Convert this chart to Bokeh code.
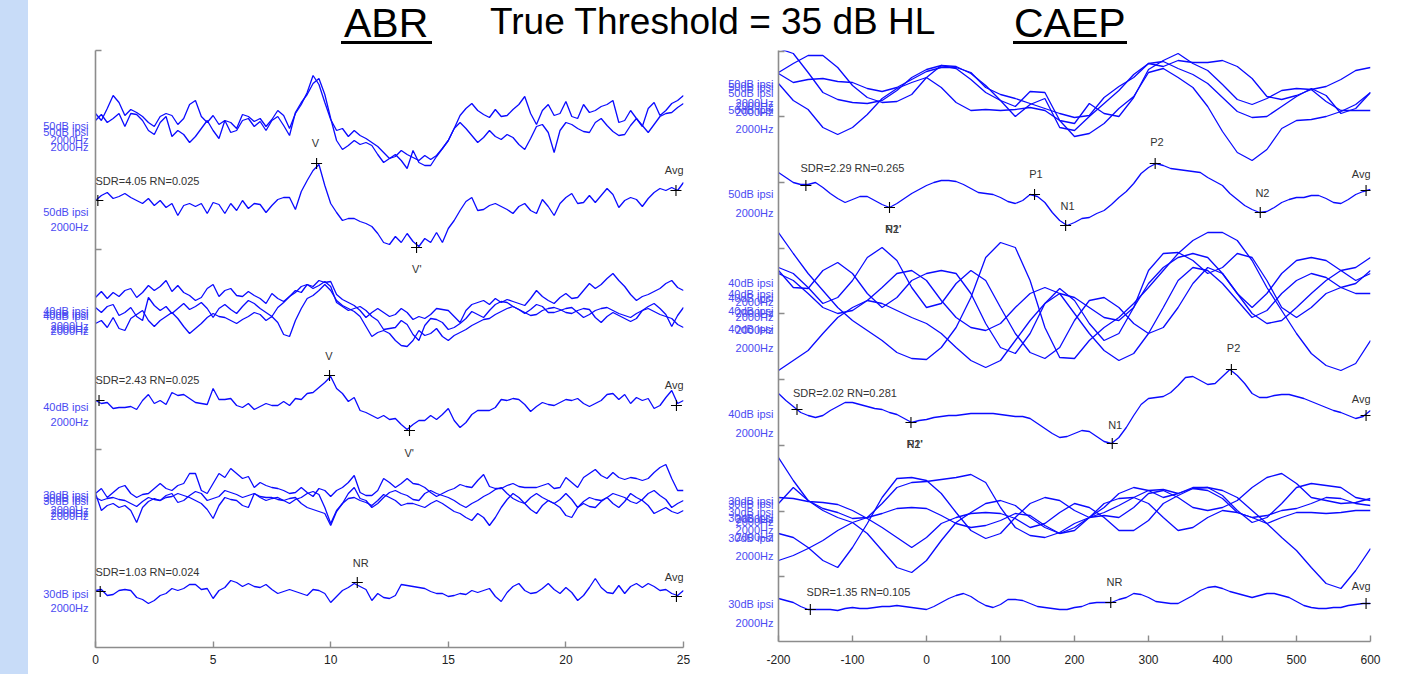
import numpy as np
from bokeh.plotting import figure
from bokeh.models import Range1d, FixedTicker, ColumnDataSource, LabelSet, Label, Div
from bokeh.layouts import row, column
from bokeh.core.properties import value
from bokeh.embed import file_html
from bokeh.resources import INLINE

# ---------------- ABR data (latency in ms, amplitude in display units) ----------------
abr_ms = np.arange(101) * 0.25

abr_50_a = [-3, -10, 2, 15, 8, -5, 1, -2, -6, -12, -16, -6, -3, -5, -14, -8, 6, 10, -6, -12,
            -5, -14, -10, -12, -18, -4, -6, -11, -8, -16, -9, 0, -5, -18, -3, 6, 18, 35, 26, 8,
            -9, -20, -18, -26, -20, -25, -28, -32, -36, -42, -48, -46, -40, -44, -47, -50, -45, -49, -45, -38,
            -30, -18, -5, 2, 7, 0, -4, -7, 1, -6, -5, 1, 6, 14, -3, -14, 0, 6, -5, -3,
            9, -6, -8, 6, -2, 0, 4, 6, 10, -12, -10, 0, -8, -16, 2, 8, -5, 0, 7, 10, 15]
abr_50_b = [-10, -4, -12, -8, -3, -16, -3, -4, -10, -20, -24, -12, -6, -26, -20, -24, -32, -26, -18, -10,
            -20, -28, -10, -22, -20, -10, -8, -16, -11, -20, -10, -6, -15, -25, -2, 8, 16, 27, 32, 16,
            -8, -30, -39, -35, -30, -34, -32, -35, -44, -52, -48, -44, -50, -58, -40, -52, -55, -55, -46, -38,
            -30, -18, -12, -18, -25, -32, -27, -20, -26, -29, -24, -27, -34, -39, -28, -16, -14, -22, -42, -20,
            -12, -14, -18, -21, -22, -12, -8, -15, -21, -25, -24, -15, -8, -15, -22, -14, -6, -3, -2, 3, 7]
abr_50_avg = [0, 5, 8, 2, 4, 7, 3, 0, -3, 2, -5, 0, -7, -3, -15, -5, -3, -6, -3, -13,
              -2, -4, -13, -3, -10, 0, -8, -3, -4, -12, -5, 1, 3, 3, -9, 9, 20, 30, 36, 15,
              -3, -12, -20, -18, -18, -21, -23, -26, -33, -42, -44, -36, -42, -33, -41, -46, -38, -42, -32, -42,
              -28, -20, -10, -1, 3, -10, -9, -5, -3, -6, -9, -13, -6, -3, -10, -13, 1, -6, -15, -3,
              3, 7, -3, -2, 5, -2, 5, 12, 6, -7, 0, 3, 1, -6, 2, 8, 12, 10, 13, 10, 18]

abr_40_a = [3, 9, 2, 8, 4, 10, 12, 3, 8, 15, 10, 14, 20, 9, 15, 8, 5, 0, 3, 12,
            16, 4, 10, 12, 5, 4, 9, 5, 2, -3, 7, 2, -1, 4, 10, 8, 16, 14, 20, 18,
            19, 6, 1, -2, -5, -10, -17, -12, -8, -12, -16, -14, -8, -12, -19, -16, -18, -14, -8, -9,
            -10, -16, -22, -10, -4, -2, 0, -4, 2, -2, 1, -1, -3, -5, 2, 10, 4, 0, -3, 3,
            7, 2, 3, 10, 17, 12, 16, 22, 27, 20, 14, 6, 0, 4, 6, 9, 12, 17, 20, 13, 10]
abr_40_b = [-7, -12, -6, -4, -15, -12, -7, -16, -20, 3, -5, -10, -6, -13, -8, -3, -9, -6, -2, -8,
            -17, -8, -4, -9, -13, -6, 0, -3, -8, -12, -16, -7, -2, 4, 8, 14, 16, 12, 15, 19,
            14, -2, -6, -10, -8, -6, -10, -16, -20, -29, -28, -27, -20, -24, -34, -40, -25, -18, -19, -22,
            -29, -27, -23, -18, -11, -14, -17, -10, -4, -1, -2, -6, -9, -13, -9, -4, -6, -12, -12, -10,
            -8, -7, -12, -17, -14, -10, -8, -7, -10, -13, -15, -17, -13, -10, -6, -3, -8, -14, -26, -15, -7]
abr_40_c = [-23, -20, -27, -17, -28, -30, -18, -14, -10, -20, -26, -20, -16, -12, -18, -26, -33, -28, -23, -17,
            -13, -16, -17, -20, -23, -19, -16, -12, -14, -20, -16, -22, -34, -36, -20, -8, 2, 5, 10, 16,
            10, 0, -5, -8, -11, -16, -26, -36, -32, -30, -33, -40, -45, -46, -40, -30, -35, -33, -28, -36,
            -40, -35, -32, -29, -25, -22, -19, -18, -14, -11, -8, -6, -9, -12, -15, -14, -10, -8, -7, -9,
            -12, -13, -10, -8, -9, -17, -22, -16, -12, -15, -18, -21, -18, -10, -8, -11, -14, -16, -18, -24, -27]
abr_40_avg = [0, -3, -2, -8, -7, -7, -6, -9, 0, 6, -3, 0, -4, 8, 5, 6, 2, -2, -3, -4,
              12, 1, 1, 2, -5, -7, -3, -9, -6, -3, -5, -5, -1, -5, 2, 1, 7, 8, 13, 18,
              24, 12, 7, -1, 3, -10, -12, -15, -18, -15, -19, -18, -24, -29, -24, -20, -20, -15, -19, -14,
              -8, -20, -27, -22, -14, -10, -10, -10, -7, 1, 0, 2, 1, -4, -11, -6, -2, -4, -5, -2,
              1, 0, 2, -3, -6, -3, 0, 6, 7, 1, 6, -3, 3, 0, 2, -8, -5, 3, 10, -3, 0]

abr_30_a = [2, 7, -2, 3, 8, 10, 2, -2, 1, 2, 7, 12, 7, 5, 10, 12, 22, 22, 5, 2,
            12, 22, 18, 27, 22, 17, 19, 8, 13, 10, 8, 7, 5, 2, 3, 8, 3, -1, 7, 5,
            -1, 5, 8, 13, 20, 3, 0, 0, 5, 17, 13, 8, 12, 17, 12, 11, 8, 3, -1, 2,
            5, 7, 11, 9, 8, 15, 21, 9, 7, 7, 10, 12, 9, 8, 8, 8, 10, 12, 7, 8,
            18, 13, 8, 18, 22, 26, 20, 17, 23, 18, 16, 18, 17, 15, 17, 23, 28, 31, 17, 5, 5]
abr_30_b = [-2, -5, -3, -2, -4, -5, -8, -11, -6, -2, -4, -5, 0, 2, -7, -5, 0, 4, 2, -5,
            -3, -1, 5, 3, 1, -2, 0, 2, -2, -5, -3, -2, -5, -8, -4, -2, 2, 4, 1, -12,
            -28, -15, -8, 2, 8, -3, -5, -12, -8, -2, 3, 5, 2, 0, -4, -5, 2, 5, 2, 0,
            -2, -5, -9, -12, -8, -5, -1, 2, 6, 8, 2, -3, -6, -8, -2, 2, -2, -5, -8, -4,
            2, -4, -12, -6, -2, -4, -5, -2, 2, 0, -2, -6, -8, -4, 2, 5, 0, -4, -12, -8, -5]
abr_30_c = [2, -15, -10, -8, -12, -10, -15, -27, -12, -6, -3, -5, -2, -1, 2, 0, -2, -5, -8, -14,
            -23, -10, -2, -4, -5, -10, -12, 2, -1, -2, -2, -4, -5, -3, -2, -8, -12, -14, -16, -18,
            -30, -16, -8, -3, -2, -5, -7, -10, -5, 1, -2, -5, -10, -8, -8, -10, -12, -8, -5, -8,
            -12, -16, -18, -22, -25, -18, -22, -30, -22, -12, -4, 2, -2, -8, -14, -18, -10, -5, -8, -12,
            -20, -22, -12, -8, -11, -12, -6, -2, -8, -12, -6, 2, -2, -5, -10, -18, -15, -12, -16, -18, -15]
abr_30_avg = [2, 3, -3, -2, 2, 3, 2, -5, -7, -11, -8, -3, -1, 4, 2, 4, 8, 8, 3, 4,
              -6, 2, 5, 12, 10, 6, 9, 6, 5, 8, 3, -1, 1, 3, 1, -1, -3, 3, 2, -1,
              -10, -4, 2, 5, 9, 6, 3, -8, -1, -5, -6, -3, 8, 7, 6, 5, 4, 1, -1, -1,
              -4, -3, -1, -2, 2, 0, 2, 4, -4, -9, 0, 6, 9, 2, -1, 0, 4, 9, 3, -1,
              5, 0, -8, -3, 5, 14, 5, 0, -1, 7, -1, 6, 9, 5, 9, 6, 2, 3, -1, -3, 2]

# channel baselines (vertical stacking of the recordings)
abr_base = {"50": 538, "50avg": 448, "40": 348, "40avg": 248, "30": 153, "30avg": 56}

# marked peaks on the averaged ABR waveforms
abr_50_pk_ms = [0.1, 9.4, 13.65, 24.68]
abr_50_pk_amp = [0, 37, -47, 10]
abr_40_pk_ms = [0.15, 9.95, 13.35, 24.7]
abr_40_pk_amp = [0, 25, -30, -5]
abr_30_pk_ms = [0.2, 11.13, 24.7]
abr_30_pk_amp = [1, 10, -4]

# ---------------- CAEP data (latency in ms) ----------------
caep_ms_grp = np.arange(-200, 601, 20)
caep_ms_avg = np.arange(-200, 601, 10)

caep_50_1 = [28, 37, 45, 45, 33, 15, 3, -2, -1, 6, 23, 35, 34, 27, 15, 0, -16, -4, 2, -27,
             -30, -16, -3, 10, 26, 37, 39, 32, 26, 17, 3, -11, -17, -16, -6, 4, 12, 5, -13, -8, 8]
caep_50_2 = [17, 0, -9, -27, -34, -27, -14, 2, 12, 18, 23, 13, -2, -10, -9, -10, -9, -7, -10, -20,
             -36, -33, -23, -8, 4, 28, 32, 23, 13, -6, -31, -52, -60, -49, -28, -20, -19, -16, -11, -4, 8]
caep_50_3 = [52, 47, 28, 8, 1, -2, -3, 0, 10, 23, 31, 35, 32, 21, 8, 0, -6, 9, 8, -20,
             -23, -3, -13, -16, 3, 31, 40, 47, 37, 30, 16, 1, -4, 2, 10, 12, 11, -1, -10, -10, -10]
caep_50_4 = [27, 18, 21, 22, 19, 18, 12, 9, 13, 21, 29, 33, 33, 28, 13, 6, 2, -3, -8, -13,
             -17, -15, 3, 14, 23, 37, 34, 40, 38, 38, 40, 34, 22, 4, 1, 5, 11, 14, 21, 30, 33]
caep_50_avg = [18, 13, 8, 6, 6, 8, 3, -3, -8, -12, -9, -6, -6, -10, -14, -17, -13, -8, -3, 1,
               5, 8, 10, 10, 9, 6, 2, -2, -3, -4, -7, -11, -13, -10, -4, -6, -12, -22, -30, -35,
               -32, -28, -27, -23, -20, -14, -7, -1, 7, 17, 23, 27, 25, 22, 21, 20, 19, 18, 13, 9,
               5, -3, -9, -15, -19, -22, -21, -17, -12, -9, -7, -7, -5, -5, -8, -12, -13, -9, -4, -1, 1]

caep_40_1 = [68, 47, 27, 10, -7, -20, -30, -40, -52, -58, -59, -47, -27, 3, 43, 58, 53, 20, -27, -57,
             -58, -40, -27, -17, -3, 13, 30, 47, 60, 68, 68, 60, 40, 13, -10, -33, -53, -65, -70, -63, -40]
caep_40_2 = [-70, -60, -50, -33, -17, -7, 0, -3, -10, -17, -23, -33, -47, -60, -67, -60, -40, -20, -3, 7,
             3, -7, -17, -20, -7, 17, 33, 43, 47, 43, 27, 7, -13, -23, -20, -7, 7, 20, 30, 33, 43]
caep_40_3 = [30, 13, 12, 30, 38, 27, 7, -7, 3, 20, 27, 30, 27, 7, -23, -47, -53, -33, -3, 12,
             0, -23, -40, -33, -7, 30, 47, 48, 40, 27, 33, 47, 43, 20, -7, -17, -7, 7, 13, 17, 30]
caep_40_4 = [33, 27, 13, -3, 3, 20, 43, 53, 40, 13, -7, -3, 17, 30, 20, -7, -33, -52, -58, -47,
             -20, 0, 3, -7, -23, -33, -27, -7, 17, 33, 27, 7, -7, 7, 27, 40, 43, 40, 30, 20, 27]
caep_40_5 = [27, 20, 7, -7, -13, -10, 0, 13, 27, 30, 20, 0, -17, -27, -30, -23, -7, 7, 13, 7,
             -13, -33, -50, -60, -53, -33, -7, 20, 33, 30, 17, 0, -17, -10, 7, 20, 27, 23, 13, 7, 7]
caep_40_avg = [17, 10, 4, -2, -5, -7, -5, 0, 4, 8, 8, 6, 4, 2, 1, -2, -4, -8, -12, -10,
               -9, -7, -6, -5, -5, -4, -3, -3, -3, -3, -4, -5, -6, -6, -8, -13, -18, -23, -27, -26,
               -23, -20, -21, -26, -31, -33, -27, -17, -5, 6, 12, 13, 14, 18, 25, 33, 34, 30, 26, 27,
               34, 41, 35, 27, 17, 13, 13, 15, 16, 16, 14, 12, 9, 6, 3, 0, -2, -5, -8, -6, 0]

caep_30_1 = [63, 40, 20, 10, 3, -2, -13, -30, -47, -52, -40, -20, -2, 8, 17, 20, 15, 3, -7, -13,
             -7, 3, 8, 15, 23, 30, 31, 27, 32, 33, 25, 10, -2, 3, 17, 33, 37, 35, 33, 23, 20]
caep_30_2 = [-13, -17, -27, -40, -47, -27, -3, 23, 42, 43, 40, 27, 8, -10, -18, -13, 3, 17, 23, 20,
             10, 3, 13, 27, 33, 30, 23, 27, 33, 33, 30, 23, 10, -3, -17, -30, -47, -63, -68, -50, -28]
caep_30_3 = [17, 33, 20, 12, 8, 2, 3, 17, 33, 38, 39, 41, 43, 46, 38, 13, -7, -15, -17, -12,
             -3, 3, 5, 3, 13, 27, 30, 23, 13, 10, 13, 20, 33, 43, 47, 37, 23, 20, 17, 18, 22]
caep_30_4 = [-40, -35, -28, -20, -10, -2, 3, 7, 12, 13, 12, 5, -3, -7, -5, 0, 7, 5, -5, -13,
             -10, 3, 17, 22, 23, 17, 3, -10, -7, 3, 10, 8, 3, -3, 3, 8, 8, 7, 8, 10, 10]
caep_30_5 = [23, 22, 19, 18, 16, 10, 2, -7, -17, -27, -17, -3, 3, 7, 8, 7, 2, -7, -3, 8,
             17, 13, 3, -10, -10, 0, 17, 25, 32, 30, 22, 8, 3, 5, 10, 12, 17, 23, 22, 17, 15]
caep_30_avg = [10, 8, 6, 2, -1, -1, -1, -1, -2, 0, 1, 0, 0, 1, 2, 2, 3, 2, 1, 0,
               -1, 2, 6, 10, 13, 15, 12, 7, 3, 1, 4, 9, 9, 8, 5, 2, 1, 0, -1, -1,
               1, 2, 5, 6, 6, 6, 9, 11, 15, 14, 11, 7, 6, 5, 5, 9, 13, 18, 21, 22,
               20, 17, 15, 13, 11, 13, 15, 15, 13, 11, 7, 3, 1, 0, 0, 1, 1, 3, 4, 5, 5]

caep_base = {"50": 542, "50avg": 452, "40": 342, "40avg": 232, "30": 122, "30avg": 34}

caep_50_pk_ms = [-163, -50, 146, 188, 309, 451, 594]
caep_50_pk_amp = [5, -17, -4, -35, 27, -22, 0]
caep_40_pk_ms = [-175, -21, 251, 412, 594]
caep_40_pk_amp = [1, -12, -33, 41, -5]
caep_30_pk_ms = [-157, 249, 594]
caep_30_pk_amp = [-1, 6, 5]

# channel names shown at the left of each recording
abr_chan_text = ["50dB ipsi", "50dB ipsi", "2000Hz", "2000Hz", "50dB ipsi", "2000Hz",
                 "40dB ipsi", "40dB ipsi", "40dB ipsi", "2000Hz", "2000Hz", "2000Hz",
                 "40dB ipsi", "2000Hz",
                 "30dB ipsi", "30dB ipsi", "30dB ipsi", "2000Hz", "2000Hz", "2000Hz",
                 "30dB ipsi", "2000Hz"]
abr_chan_y = [523, 517, 509, 502, 437, 422,
              338, 335, 333, 323, 320, 318,
              242, 227,
              154, 151, 148, 139, 136, 133,
              55, 41]
caep_chan_text = ["50dB ipsi"] * 4 + ["2000Hz"] * 4 + ["50dB ipsi", "2000Hz"] + \
                 ["40dB ipsi"] * 5 + ["2000Hz"] * 5 + ["40dB ipsi", "2000Hz"] + \
                 ["30dB ipsi"] * 5 + ["2000Hz"] * 5 + ["30dB ipsi", "2000Hz"]
caep_chan_y = [559, 556, 550, 533, 540, 537, 531, 514, 449, 430,
               360, 349, 345, 332, 314, 341, 330, 326, 313, 295, 229, 210,
               142, 139, 131, 125, 105, 124, 121, 113, 106, 87, 39, 20]

# ---------------- styling ----------------
TRACE = "#0a0aff"
CHAN = "#4a4af2"
ANN = "#333333"
AXIS = "#8c8c8c"
FONT = "Liberation Sans"
FIG_H = 628


def base_fig(width, xr, yr, mbl, mbr, mbb, xticks, yminor, standoff,
             chan_y, chan_text, chan_standoff):
    p = figure(width=width, height=FIG_H, x_range=xr, y_range=yr,
               output_backend="svg", toolbar_location=None,
               min_border_left=mbl, min_border_right=mbr,
               min_border_top=4, min_border_bottom=mbb)
    if "frame_align" in p.properties():
        p.frame_align = False
    p.outline_line_color = None
    p.grid.visible = False
    p.background_fill_color = "white"
    p.border_fill_color = "white"
    p.xaxis.ticker = FixedTicker(ticks=xticks)
    p.xaxis.major_label_overrides = {t: str(t) for t in xticks}
    p.yaxis.ticker = FixedTicker(ticks=chan_y, minor_ticks=yminor)
    p.yaxis.major_label_overrides = {y: t for y, t in zip(chan_y, chan_text)}
    for ax in (p.xaxis[0], p.yaxis[0]):
        ax.axis_line_color = AXIS
        ax.axis_line_width = 1.6
    xa, ya = p.xaxis[0], p.yaxis[0]
    xa.major_tick_line_color = AXIS
    xa.major_tick_line_width = 1.4
    xa.major_tick_in = 6
    xa.major_tick_out = 0
    xa.minor_tick_line_color = None
    xa.major_label_text_font = FONT
    xa.major_label_text_font_size = "12px"
    xa.major_label_text_color = "#222222"
    xa.major_label_standoff = standoff
    ya.major_tick_line_color = None
    ya.major_tick_in = 0
    ya.major_tick_out = 0
    ya.minor_tick_line_color = AXIS
    ya.minor_tick_line_width = 1.4
    ya.minor_tick_in = 6
    ya.minor_tick_out = 0
    ya.major_label_text_font = FONT
    ya.major_label_text_font_size = "11px"
    ya.major_label_text_color = CHAN
    ya.major_label_standoff = chan_standoff
    return p


def labels(p, xs, ys, texts, color, size, align="left"):
    src = ColumnDataSource(dict(x=xs, y=ys, t=texts))
    p.add_layout(LabelSet(x="x", y="y", text="t", source=src,
                          text_font=value(FONT), text_font_size=size,
                          text_color=color, text_align=align,
                          text_baseline="middle"))


def avg_label(p, x, y):
    p.add_layout(Label(x=x, y=y, text="Avg", text_font=FONT, text_font_size="11px",
                       text_color=ANN, text_align="right", text_baseline="middle"))


# ---------------- ABR panel ----------------
left = base_fig(672, Range1d(1, 25) if False else Range1d(0, 25), Range1d(1, 598), 67, 17, 27,
                [0, 5, 10, 15, 20, 25], [199, 399, 598], 7,
                abr_chan_y, abr_chan_text, 7)

for key, tr in [("50", abr_50_a), ("50", abr_50_b), ("50avg", abr_50_avg),
                ("40", abr_40_a), ("40", abr_40_b), ("40", abr_40_c), ("40avg", abr_40_avg),
                ("30", abr_30_a), ("30", abr_30_b), ("30", abr_30_c), ("30avg", abr_30_avg)]:
    left.line(abr_ms, np.array(tr) + abr_base[key], line_color=TRACE, line_width=1.3)

for key, ms, amp in [("50avg", abr_50_pk_ms, abr_50_pk_amp),
                     ("40avg", abr_40_pk_ms, abr_40_pk_amp),
                     ("30avg", abr_30_pk_ms, abr_30_pk_amp)]:
    left.scatter(ms, np.array(amp) + abr_base[key], marker="cross", size=11,
                 line_color="black", line_width=1.1)

labels(left, [0, 0, 0], [468, 269, 77],
       ["SDR=4.05 RN=0.025", "SDR=2.43 RN=0.025", "SDR=1.03 RN=0.024"], ANN, "11px")
labels(left, [9.35, 13.66, 9.92, 13.34, 11.28],
       [506, 380, 293, 196, 86],
       ["V", "V'", "V", "V'", "NR"], ANN, "11px", "center")
for y in [479, 264, 72]:
    avg_label(left, 25.0, y)

# ---------------- CAEP panel ----------------
right = base_fig(711, Range1d(-200, 600), Range1d(1, 592), 78, 41, 33,
                 list(range(-200, 601, 100)), [66, 131, 197, 263, 329, 394, 460, 526, 591], 13,
                 caep_chan_y, caep_chan_text, 5)

for key, tr in [("50", caep_50_1), ("50", caep_50_2), ("50", caep_50_3), ("50", caep_50_4),
                ("40", caep_40_1), ("40", caep_40_2), ("40", caep_40_3), ("40", caep_40_4), ("40", caep_40_5),
                ("30", caep_30_1), ("30", caep_30_2), ("30", caep_30_3), ("30", caep_30_4), ("30", caep_30_5)]:
    right.line(caep_ms_grp, np.array(tr) + caep_base[key], line_color=TRACE, line_width=1.3)
for key, tr in [("50avg", caep_50_avg), ("40avg", caep_40_avg), ("30avg", caep_30_avg)]:
    right.line(caep_ms_avg, np.array(tr) + caep_base[key], line_color=TRACE, line_width=1.3)

for key, ms, amp in [("50avg", caep_50_pk_ms, caep_50_pk_amp),
                     ("40avg", caep_40_pk_ms, caep_40_pk_amp),
                     ("30avg", caep_30_pk_ms, caep_30_pk_amp)]:
    right.scatter(ms, np.array(amp) + caep_base[key], marker="cross", size=11,
                  line_color="black", line_width=1.1)

labels(right, [-170.3, -180.5, -162.3], [475, 250, 51],
       ["SDR=2.29 RN=0.265", "SDR=2.02 RN=0.281", "SDR=1.35 RN=0.105"], ANN, "11px")
labels(right,
       [-45, -45, 148, 190.5, 311.5, 454,
        -16, -16, 255, 415,
        254],
       [414, 414, 469, 437, 501, 450,
        199, 199, 218, 295,
        61],
       ["P2'", "N1'", "P1", "N1", "P2", "N2",
        "P2'", "N1'", "N1", "P2",
        "NR"], ANN, "11px", "center")
for y in [469, 244, 57]:
    avg_label(right, 600, y)

# ---------------- page furniture ----------------
title_html = """
<div style="position:relative;width:1383px;height:46px;font-family:'Liberation Sans';color:#000;">
  <span style="position:absolute;left:316px;top:3px;font-size:41px;line-height:41px;white-space:nowrap;">ABR</span>
  <div style="position:absolute;left:313px;top:41px;width:91px;height:3px;background:#000;"></div>
  <span style="position:absolute;left:462px;top:3px;font-size:37px;line-height:37px;white-space:nowrap;">True Threshold = 35 dB HL</span>
  <span style="position:absolute;left:986px;top:3px;font-size:41px;line-height:41px;white-space:nowrap;">CAEP</span>
  <div style="position:absolute;left:985px;top:41px;width:114px;height:3px;background:#000;"></div>
</div>
"""
title = Div(text=title_html, width=1383, height=46, margin=0)
strip = Div(text="", width=28, height=674, margin=0,
            styles={"background-color": "#c8dcf8"})

layout = row(strip, column(title, row(left, right, spacing=0), spacing=0), spacing=0)

open("out.html", "w").write(file_html(layout, INLINE))
